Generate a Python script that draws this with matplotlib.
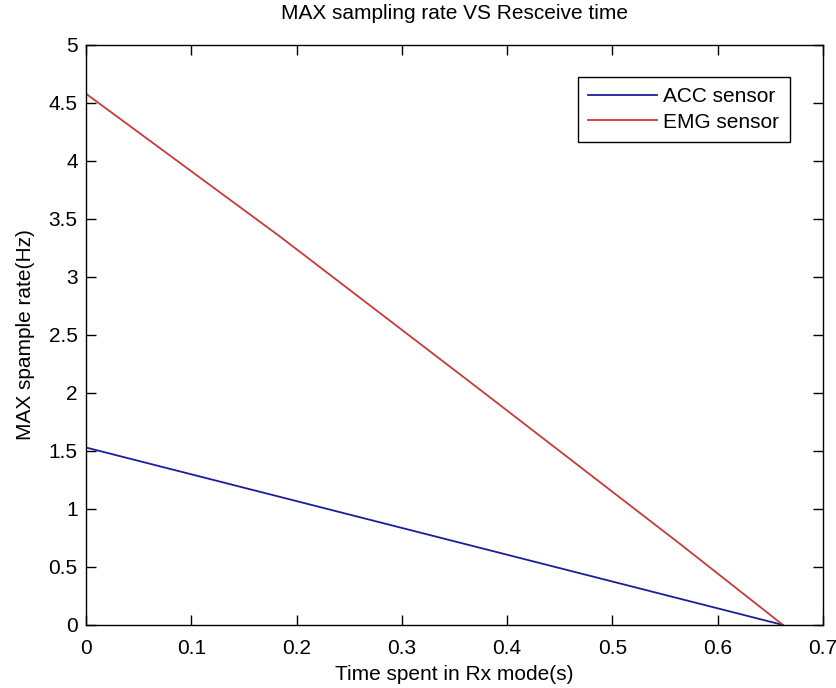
import matplotlib
matplotlib.use("Agg")
import matplotlib.pyplot as plt

# values
acc_t = [0.0, 0.662]
acc_rate = [1.53, 0.0]
emg_t = [0.0, 0.184, 0.374, 0.564, 0.662]
emg_rate = [4.58, 3.35, 2.03, 0.70, 0.0]

xticks = [0, 0.1, 0.2, 0.3, 0.4, 0.5, 0.6, 0.7]
yticks = [0, 0.5, 1, 1.5, 2, 2.5, 3, 3.5, 4, 4.5, 5]

plt.rcParams['font.family'] = ['Liberation Sans', 'DejaVu Sans']
plt.rcParams['font.size'] = 15

fig = plt.figure(figsize=(8.36, 6.88), dpi=100)
ax = fig.add_axes([0.1029, 0.0916, 0.8816, 0.843])

ax.plot(acc_t, acc_rate, color='#1c1c9c', lw=1.3, label='ACC sensor')
ax.plot(emg_t, emg_rate, color='#c83a3a', lw=1.3, label='EMG sensor')

ax.set_xlim(0, 0.7)
ax.set_ylim(0, 5)
ax.set_xticks(xticks)
ax.set_xticklabels(['0', '0.1', '0.2', '0.3', '0.4', '0.5', '0.6', '0.7'])
ax.set_yticks(yticks)
ax.set_yticklabels(['0', '0.5', '1', '1.5', '2', '2.5', '3', '3.5', '4', '4.5', '5'])
ax.tick_params(direction='in', top=True, right=True, length=7, width=1, labelsize=15)
ax.tick_params(axis='x', pad=10)
ax.tick_params(axis='y', pad=6)
for s in ax.spines.values():
    s.set_linewidth(1)

ax.set_title('MAX sampling rate VS Resceive time', fontsize=15, pad=19)
ax.set_xlabel('Time spent in Rx mode(s)', fontsize=15, labelpad=5)
ax.set_ylabel('MAX spample rate(Hz)', fontsize=15, labelpad=10)

leg = ax.legend(loc='upper right', bbox_to_anchor=(0.955, 0.945), borderaxespad=0,
                fancybox=False, edgecolor='black', framealpha=1, fontsize=15,
                handlelength=3.3, handletextpad=0.3, borderpad=0.5, labelspacing=0.3)
leg.get_frame().set_linewidth(1)

fig.savefig('out.png', dpi=100)
